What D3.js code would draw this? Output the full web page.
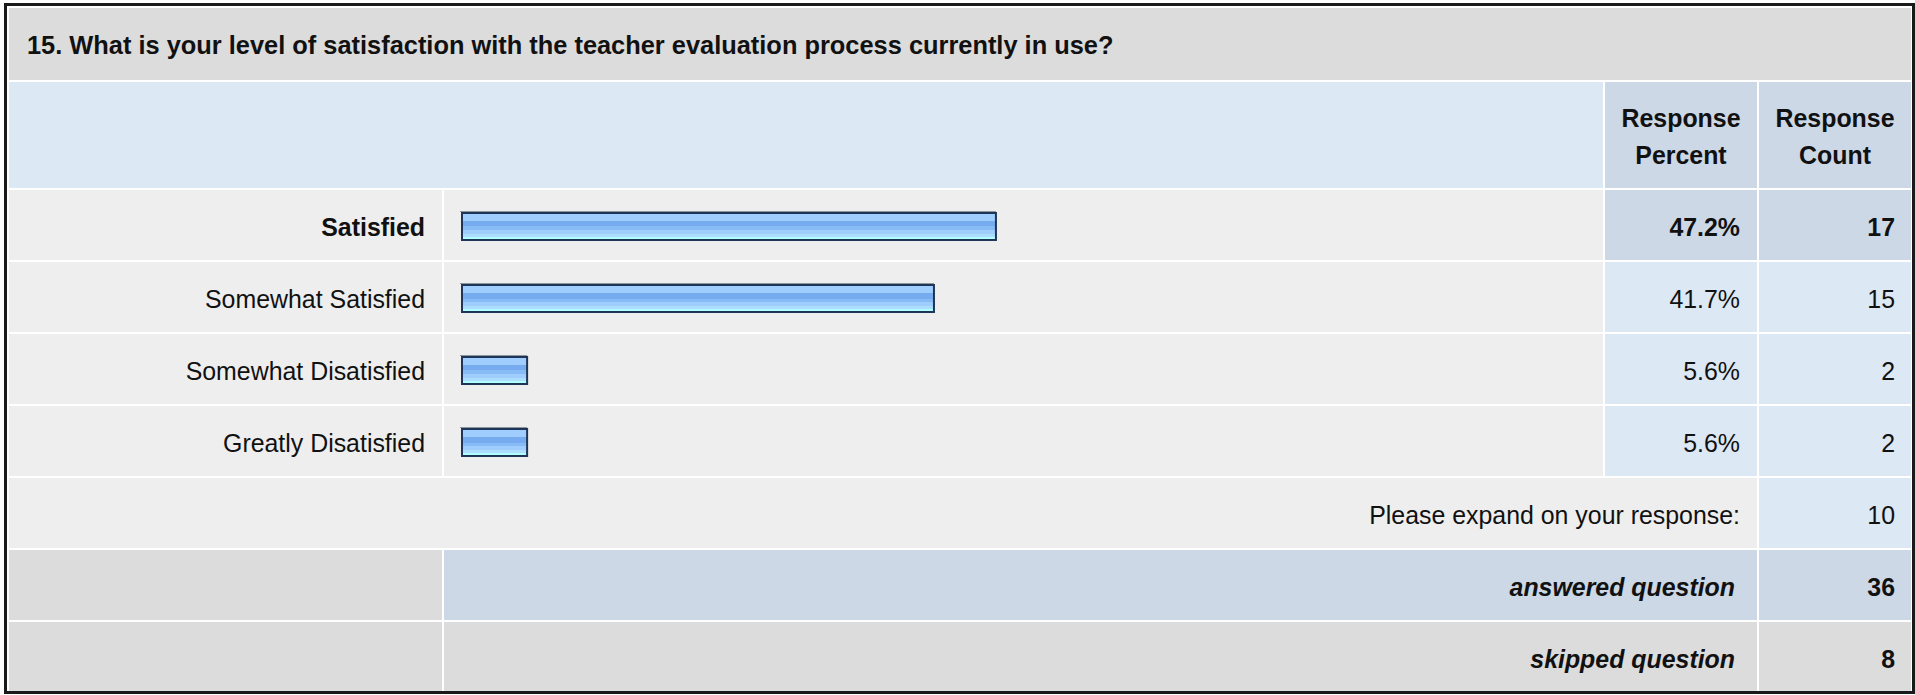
<!DOCTYPE html>
<html>
<head>
<meta charset="utf-8">
<script src="https://cdn.jsdelivr.net/npm/d3@7"></script>
<style>
  html, body { margin: 0; padding: 0; background: #ffffff; }
  svg { display: block; }
  text { font-family: "Liberation Sans", Arial, Helvetica, sans-serif; fill: #111; }
</style>
</head>
<body>
<svg id="chart" width="1915" height="695"></svg>
<script>
// ---- data ----
const title = "15. What is your level of satisfaction with the teacher evaluation process currently in use?";
const categories = ["Satisfied", "Somewhat Satisfied", "Somewhat Disatisfied", "Greatly Disatisfied"];
const percents = [47.2, 41.7, 5.6, 5.6];
const counts = [17, 15, 2, 2];
const headerPercent = ["Response", "Percent"];
const headerCount = ["Response", "Count"];
const otherLabel = "Please expand on your response:";
const otherCount = 10;
const summaryLabels = ["answered question", "skipped question"];
const summaryValues = [36, 8];

// ---- layout ----
const svg = d3.select("#chart");
const W = 1915, H = 695;
const colEdges = [[9, 442], [444, 1603], [1605, 1757], [1759, 1911]];
const titleRow = [8, 80];
const headerRow = [82, 188];
const rowTop = 190, rowH = 70, rowStep = 72;
const FS = 24.9;

const C = {
  grey: "#dcdcdc", light: "#eeeeee", blue: "#dde8f5", blueDark: "#ccd8e6"
};

svg.append("rect").attr("x", 0).attr("y", 0).attr("width", W).attr("height", H).attr("fill", "#ffffff");

function cell(x0, x1, y0, y1, fill) {
  svg.append("rect").attr("x", x0).attr("y", y0).attr("width", x1 - x0).attr("height", y1 - y0).attr("fill", fill);
}

// title band
cell(colEdges[0][0], colEdges[3][1], titleRow[0], titleRow[1], C.grey);
svg.append("text").attr("x", 27).attr("y", 54).attr("font-size", 25.4).attr("font-weight", "bold").text(title);

// header band
cell(colEdges[0][0], colEdges[1][1], headerRow[0], headerRow[1], C.blue);
cell(colEdges[2][0], colEdges[2][1], headerRow[0], headerRow[1], C.blueDark);
cell(colEdges[3][0], colEdges[3][1], headerRow[0], headerRow[1], C.blueDark);
[headerPercent, headerCount].forEach((lines, i) => {
  const col = colEdges[2 + i];
  const cx = (col[0] + col[1]) / 2;
  lines.forEach((t, j) => {
    svg.append("text").attr("x", cx).attr("y", 127 + j * 37).attr("text-anchor", "middle")
      .attr("font-size", FS).attr("font-weight", "bold").text(t);
  });
});

// rows scale
const y = d3.scaleBand().domain(categories).range([rowTop, rowTop + rowStep * categories.length]).paddingInner(0).paddingOuter(0);
const barX0 = colEdges[1][0] + 17;
const x = d3.scaleLinear().domain([0, 100]).range([0, 1127]);
const maxIdx = percents.indexOf(d3.max(percents));

// gradient for bars
const defs = svg.append("defs");
const grad = defs.append("linearGradient").attr("id", "barGrad").attr("x1", 0).attr("y1", 0).attr("x2", 0).attr("y2", 1);
[[0, "#9fcdfd"], [0.30, "#9fcdfd"], [0.30, "#76abef"], [0.50, "#76abef"], [0.50, "#86bbf6"],
 [0.63, "#86bbf6"], [0.63, "#9fcdfd"], [0.76, "#9fcdfd"], [0.76, "#abdefd"], [0.88, "#abdefd"],
 [0.88, "#b2feff"], [1, "#b2feff"]].forEach(([o, c]) => grad.append("stop").attr("offset", o).attr("stop-color", c));

categories.forEach((cat, i) => {
  const y0 = y(cat), y1 = y0 + rowH;
  const bold = i === maxIdx;
  cell(colEdges[0][0], colEdges[0][1], y0, y1, C.light);
  cell(colEdges[1][0], colEdges[1][1], y0, y1, C.light);
  cell(colEdges[2][0], colEdges[2][1], y0, y1, bold ? C.blueDark : C.blue);
  cell(colEdges[3][0], colEdges[3][1], y0, y1, bold ? C.blueDark : C.blue);
  svg.append("text").attr("x", colEdges[0][1] - 17).attr("y", y0 + 45.5).attr("text-anchor", "end")
    .attr("font-size", FS).attr("font-weight", bold ? "bold" : "normal").text(cat);
  svg.append("text").attr("x", colEdges[2][1] - 17).attr("y", y0 + 45.5).attr("text-anchor", "end")
    .attr("font-size", FS).attr("font-weight", bold ? "bold" : "normal").text(percents[i].toFixed(1) + "%");
  svg.append("text").attr("x", colEdges[3][1] - 16).attr("y", y0 + 45.5).attr("text-anchor", "end")
    .attr("font-size", FS).attr("font-weight", bold ? "bold" : "normal").text(counts[i]);
});

// bars
const bars = svg.append("g");
bars.selectAll("line.top").data(categories).join("line")
  .attr("x1", barX0 - 1).attr("x2", (d, i) => barX0 + x(percents[i]) + 3)
  .attr("y1", d => y(d) + 21.5).attr("y2", d => y(d) + 21.5)
  .attr("stroke", "#8e949c").attr("stroke-width", 1);
bars.selectAll("rect.bar").data(categories).join("rect")
  .attr("class", "bar")
  .attr("x", barX0 + 1).attr("y", d => y(d) + 23)
  .attr("width", (d, i) => x(percents[i]) + 2).attr("height", 27)
  .attr("fill", "url(#barGrad)").attr("stroke", "#1d3556").attr("stroke-width", 2);

// other row
const oy0 = rowTop + rowStep * categories.length;
cell(colEdges[0][0], colEdges[2][1], oy0, oy0 + rowH, C.light);
cell(colEdges[3][0], colEdges[3][1], oy0, oy0 + rowH, C.blue);
svg.append("text").attr("x", colEdges[2][1] - 17).attr("y", oy0 + 45.5).attr("text-anchor", "end")
  .attr("font-size", FS).text(otherLabel);
svg.append("text").attr("x", colEdges[3][1] - 16).attr("y", oy0 + 45.5).attr("text-anchor", "end")
  .attr("font-size", FS).text(otherCount);

// summary rows
summaryLabels.forEach((lab, i) => {
  const y0 = oy0 + rowStep * (i + 1);
  const y1 = Math.min(y0 + rowH, 691);
  const mid = i === 0 ? C.blueDark : C.grey;
  cell(colEdges[0][0], colEdges[0][1], y0, y1, C.grey);
  cell(colEdges[1][0], colEdges[2][1], y0, y1, mid);
  cell(colEdges[3][0], colEdges[3][1], y0, y1, mid);
  svg.append("text").attr("x", colEdges[2][1] - 22).attr("y", y0 + 45.5).attr("text-anchor", "end")
    .attr("font-size", FS).attr("font-weight", "bold").attr("font-style", "italic").text(lab);
  svg.append("text").attr("x", colEdges[3][1] - 16).attr("y", y0 + 45.5).attr("text-anchor", "end")
    .attr("font-size", FS).attr("font-weight", "bold").text(summaryValues[i]);
});

// outer border
svg.append("rect").attr("x", 5.5).attr("y", 4.5).attr("width", 1908).attr("height", 688)
  .attr("fill", "none").attr("stroke", "#1a1a1a").attr("stroke-width", 3);
</script>
</body>
</html>
